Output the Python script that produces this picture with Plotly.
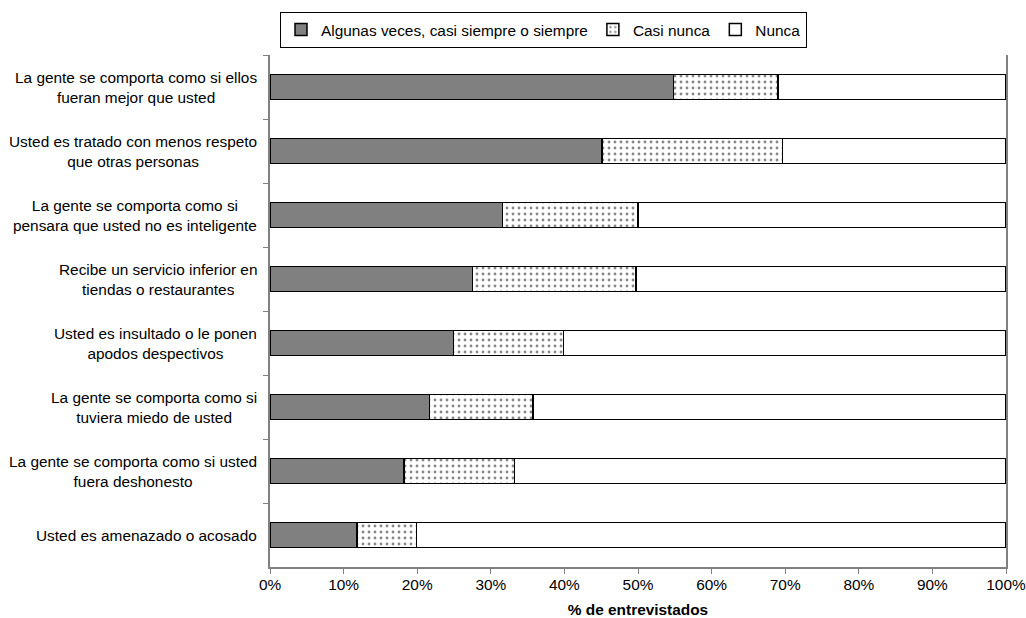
import plotly.graph_objects as go

categories = [
    "La gente se comporta como si ellos<br>fueran mejor que usted",
    "Usted es tratado con menos respeto<br>que otras personas",
    "La gente se comporta como si<br>pensara que usted no es inteligente",
    "Recibe un servicio inferior en<br>tiendas o restaurantes",
    "Usted es insultado o le ponen<br>apodos despectivos",
    "La gente se comporta como si<br>tuviera miedo de usted",
    "La gente se comporta como si usted<br>fuera deshonesto",
    "Usted es amenazado o acosado",
]
algunas = [54.8, 45.1, 31.6, 27.5, 24.9, 21.7, 18.2, 11.8]
casi_nunca = [14.2, 24.5, 18.4, 22.2, 15.0, 14.0, 15.0, 8.1]
nunca = [31.0, 30.4, 50.0, 50.3, 60.1, 64.3, 66.8, 80.1]

series_names = ["Algunas veces, casi siempre o siempre", "Casi nunca", "Nunca"]
x_ticks = list(range(0, 101, 10))
x_ticklabels = [f"{v}%" for v in x_ticks]

FONT = "Liberation Sans, Arial, sans-serif"
FS = 15.4
outline = dict(color="#000000", width=1.5)

fig = go.Figure()
fig.add_trace(go.Bar(
    y=categories, x=algunas, orientation="h", name=series_names[0],
    marker=dict(color="#808080", line=outline),
))
fig.add_trace(go.Bar(
    y=categories, x=casi_nunca, orientation="h", name=series_names[1],
    marker=dict(color="#ffffff", line=outline,
                pattern=dict(shape=".", bgcolor="#ffffff", fgcolor="#111111",
                             size=6, solidity=0.18)),
))
fig.add_trace(go.Bar(
    y=categories, x=nunca, orientation="h", name=series_names[2],
    marker=dict(color="#ffffff", line=outline),
))

for c in categories:
    fig.add_annotation(
        x=0, xref="paper", y=c, yref="y", text=c, showarrow=False,
        xanchor="right", yanchor="middle", align="center", xshift=-11,
        font=dict(family=FONT, size=FS, color="#000000"),
    )

fig.update_layout(
    width=1026, height=618,
    margin=dict(l=270, r=20, t=55, b=51, autoexpand=False),
    barmode="stack", bargap=0.61,
    plot_bgcolor="#ffffff", paper_bgcolor="#ffffff",
    font=dict(family=FONT, size=FS, color="#000000"),
    showlegend=True,
    legend=dict(
        orientation="h", xref="container", x=280 / 1026, xanchor="left",
        yref="container", y=1 - 12 / 618, yanchor="top",
        bordercolor="#000000", borderwidth=1, bgcolor="#ffffff",
        font=dict(family=FONT, size=FS, color="#000000"),
        traceorder="normal", itemwidth=30,
    ),
    xaxis=dict(
        range=[0, 100], tickmode="array", tickvals=x_ticks, ticktext=x_ticklabels,
        ticks="outside", ticklen=5, tickcolor="#808080",
        showline=True, linecolor="#808080", linewidth=1.5,
        showgrid=False, zeroline=False, automargin=False,
        ticklabelstandoff=-2,
        title=dict(text="<b>% de entrevistados</b>", standoff=23,
                   font=dict(family=FONT, size=FS, color="#000000")),
        tickfont=dict(family=FONT, size=FS, color="#000000"),
    ),
    yaxis=dict(
        categoryorder="array", categoryarray=categories, autorange="reversed",
        showticklabels=False, ticks="outside", ticklen=5, tickcolor="#808080",
        tickson="boundaries", automargin=False,
        showline=True, linecolor="#808080", linewidth=1.5, mirror=True,
        showgrid=False, zeroline=False,
    ),
)

fig.write_html(
    "out.html",
    config={"displayModeBar": False},
    post_script="document.body.style.margin='0px';document.body.style.overflow='hidden';",
)
